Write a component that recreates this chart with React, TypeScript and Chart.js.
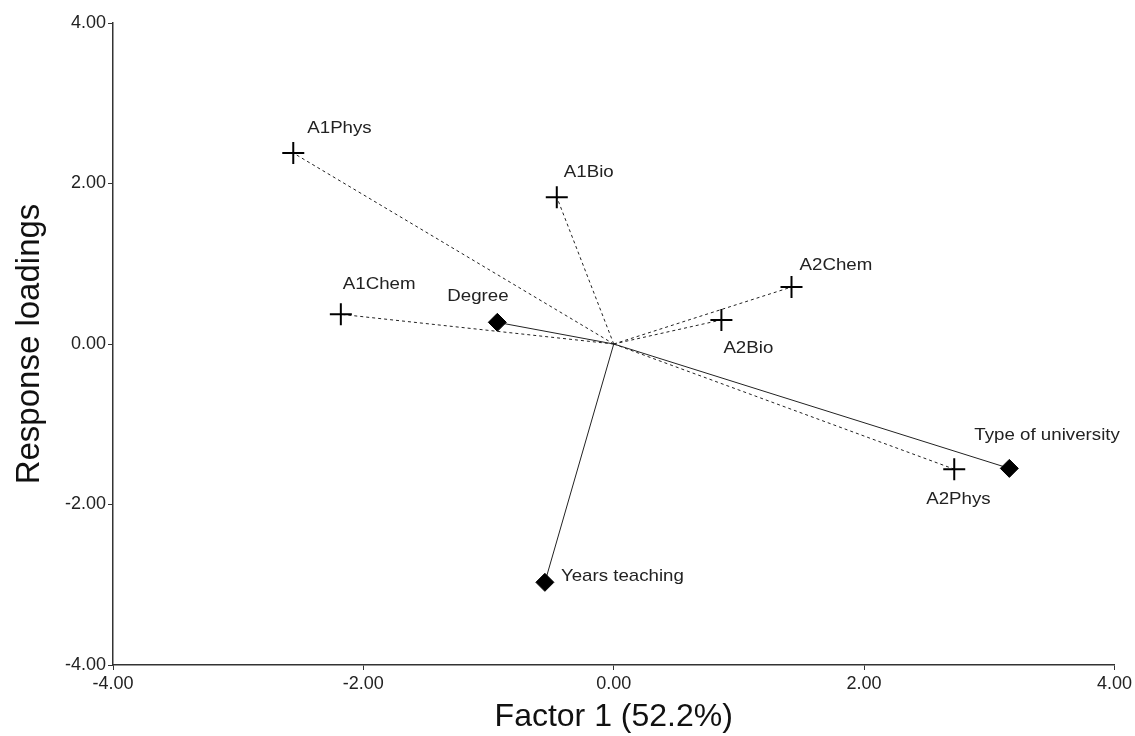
import React, { useEffect, useRef } from "react";
import { Chart, registerables } from "chart.js";

Chart.register(...registerables);

const responseNames = ["A1Phys", "A1Bio", "A2Chem", "A2Bio", "A1Chem", "A2Phys"];
const responseX = [-2.56, -0.455, 1.42, 0.86, -2.18, 2.72];
const responseY = [2.38, 1.83, 0.71, 0.3, 0.37, -1.56];

const factorNames = ["Degree", "Type of university", "Years teaching"];
const factorX = [-0.93, 3.16, -0.55];
const factorY = [0.27, -1.55, -2.97];

const axisTicks = [-4, -2, 0, 2, 4];

const FONT = "'Liberation Sans', Arial, sans-serif";

// label offsets in px (dx, dy)
const responseLabelOffsets: [number, number][] = [
  [14, -25],
  [7, -25],
  [8, -22],
  [2, 28],
  [2, -30],
  [-28, 30],
];
const factorLabelOffsets: [number, number][] = [
  [-50, -26],
  [-35, -33],
  [16, -6],
];

const labelPlugin = {
  id: "pointLabels",
  afterDatasetsDraw(chart: any) {
    const ctx = chart.ctx;
    const xs = chart.scales.x;
    const ys = chart.scales.y;
    ctx.save();
    ctx.font = `17px ${FONT}`;
    ctx.fillStyle = "#222";
    ctx.textBaseline = "middle";
    ctx.textAlign = "left";
    const draw = (names: string[], X: number[], Y: number[], offs: [number, number][]) => {
      names.forEach((n, i) => {
        const px = xs.getPixelForValue(X[i]);
        const py = ys.getPixelForValue(Y[i]);
        ctx.save();
        ctx.translate(px + offs[i][0], py + offs[i][1]);
        ctx.scale(1.1, 1);
        ctx.fillText(n, 0, 0);
        ctx.restore();
      });
    };
    draw(responseNames, responseX, responseY, responseLabelOffsets);
    draw(factorNames, factorX, factorY, factorLabelOffsets);
    ctx.restore();
  },
};

export default function App() {
  const ref = useRef<HTMLCanvasElement>(null);
  useEffect(() => {
    if (!ref.current) return;
    const datasets: any[] = [];
    responseNames.forEach((n, i) => {
      datasets.push({
        label: n,
        data: [
          { x: 0, y: 0 },
          { x: responseX[i], y: responseY[i] },
        ],
        showLine: true,
        borderColor: "#222",
        borderWidth: 1,
        borderDash: [3, 3],
        pointStyle: "cross",
        pointRadius: [0, 11],
        pointBorderColor: "#000",
        pointBorderWidth: 2,
        pointBackgroundColor: "#000",
      });
    });
    factorNames.forEach((n, i) => {
      datasets.push({
        label: n,
        data: [
          { x: 0, y: 0 },
          { x: factorX[i], y: factorY[i] },
        ],
        showLine: true,
        borderColor: "#222",
        borderWidth: 1,
        pointStyle: "rectRot",
        pointRadius: [0, 9],
        pointBorderColor: "#000",
        pointBorderWidth: 1,
        pointBackgroundColor: "#000",
      });
    });
    const tickFont = { family: FONT, size: 18 };
    const chart = new Chart(ref.current, {
      type: "scatter",
      data: { datasets },
      plugins: [labelPlugin],
      options: {
        animation: false,
        responsive: false,
        maintainAspectRatio: false,
        layout: { padding: { top: 23, right: 20, left: 0, bottom: 0 } },
        plugins: { legend: { display: false }, tooltip: { enabled: false } },
        scales: {
          x: {
            type: "linear",
            min: -4,
            max: 4,
            afterBuildTicks: (s: any) => {
              s.ticks = axisTicks.map((v) => ({ value: v }));
            },
            afterFit: (s: any) => {
              s.height = 71;
            },
            grid: { drawOnChartArea: false, tickLength: 5, color: "#333" },
            border: { color: "#333", width: 1.5 },
            ticks: {
              font: tickFont,
              color: "#222",
              padding: 3,
              maxRotation: 0,
              callback: (v: any) => Number(v).toFixed(2),
            },
            title: {
              display: true,
              text: "Factor 1 (52.2%)",
              font: { family: FONT, size: 32 },
              color: "#111",
              padding: { top: -4, bottom: 0 },
            },
          },
          y: {
            type: "linear",
            min: -4,
            max: 4,
            afterBuildTicks: (s: any) => {
              s.ticks = axisTicks.map((v) => ({ value: v }));
            },
            afterFit: (s: any) => {
              s.width = 113;
            },
            grid: { drawOnChartArea: false, tickLength: 5, color: "#333" },
            border: { color: "#333", width: 1.5 },
            ticks: {
              font: tickFont,
              color: "#222",
              padding: 2,
              callback: (v: any) => Number(v).toFixed(2),
            },
            title: {
              display: true,
              text: "Response loadings",
              font: { family: FONT, size: 33 },
              color: "#111",
              padding: { top: 10, bottom: 0 },
            },
          },
        },
      },
    });
    return () => chart.destroy();
  }, []);
  return (
    <div style={{ position: "fixed", left: 0, top: 0, width: 1135, height: 736, background: "#fff" }}>
      <canvas ref={ref} width={1135} height={736} style={{ width: 1135, height: 736 }} />
    </div>
  );
}
